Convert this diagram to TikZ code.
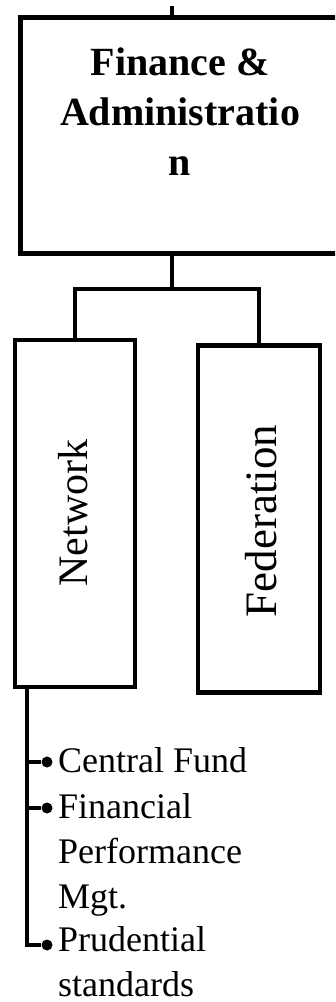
\documentclass[tikz,border=0pt]{standalone}
\usepackage{fontspec}
\setmainfont{Liberation Serif}
\usepackage{tikz}
\usetikzlibrary{positioning}

\begin{document}
\begin{tikzpicture}[x=1pt, y=-1pt,
            unitbox/.style = {draw, line width=4.5pt, inner sep=0pt},
            link/.style = {line width=4pt},
            dot/.style = {circle, fill, inner sep=0pt, minimum size=11pt},
            item/.style = {anchor=north west, inner sep=0pt, align=left, font=\fontsize{36}{45}\selectfont}]
        \useasboundingbox (0,0) rectangle (335,1002);
        \clip (0,0) rectangle (335,1002);
        \node[unitbox, line width=5pt, minimum width=320pt, minimum height=236pt] (fa) at (180,135) {};
        \node[align=center, font=\fontsize{40}{50}\selectfont\bfseries] (fatext) at (180,112) {Finance \&\\Administratio\\n};
        \node[unitbox, minimum width=120pt, minimum height=347pt] (nw) at (75,513.5) {};
        \node[rotate=90, font=\fontsize{42}{50}\selectfont] (nwtext) at (73,513) {Network};
        \node[unitbox, minimum width=122pt, minimum height=347pt] (fd) at (259,519) {};
        \node[rotate=90, font=\fontsize{45}{50}\selectfont] (fdtext) at (261,521) {Federation};
        \coordinate (feed) at (172,6);
        \coordinate (split) at (172,289);
        \coordinate (stem) at (27,0);
        \draw[link] (feed) -- (feed |- fa.north);
        \draw[link] (split |- fa.south) -- (split);
        \draw[link] (nw.north) |- (split) -| (fd.north);
        \node[dot] (d1) at (47,762) {};
        \node[dot] (d2) at (47,808) {};
        \node[dot] (d3) at (47,945) {};
        \draw[link] (stem |- nw.south) |- (d3);
        \draw[link] (stem |- d1) -- (d1);
        \draw[link] (stem |- d2) -- (d2);
        \node[item] (cf) at (58,747.4) {Central Fund};
        \node[item] (fp) at (58,793.4) {Financial\\Performance\\Mgt.};
        \node[item] (ps) at (58,926.4) {Prudential\\standards};
\end{tikzpicture}
\end{document}
